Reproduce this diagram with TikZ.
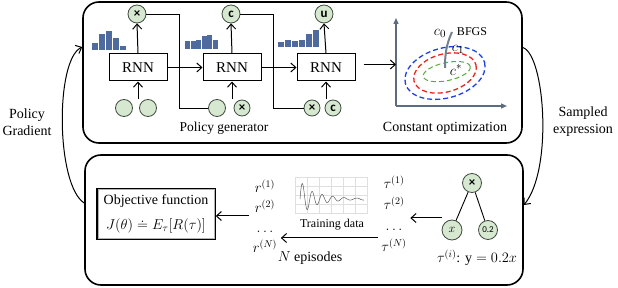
\documentclass[tikz,border=0pt]{standalone}
\usepackage{fontspec}
\setmainfont{Liberation Serif}
\setsansfont{Carlito}
\usetikzlibrary{arrows.meta, positioning, calc}
\definecolor{cbar}{HTML}{4E6A9E}
\definecolor{cnode}{HTML}{D6E8D0}
\definecolor{cnodeline}{HTML}{3F4B40}
\definecolor{caxis}{HTML}{5E6C80}
\definecolor{cpath}{HTML}{74808E}
\definecolor{cblue}{HTML}{1F3FE0}
\definecolor{cred}{HTML}{E8231F}
\definecolor{cgreen}{HTML}{5AAA3C}
\definecolor{cgrey}{HTML}{5A5A5A}
\tikzset{
  panel/.style={draw, line width=1.6pt, rounded corners=16pt, inner sep=0pt},
  rnn/.style={draw, line width=1pt, minimum width=58pt, minimum height=27pt, inner sep=0pt, font=\fontsize{15}{15}\selectfont},
  tok/.style={circle, draw=cnodeline, fill=cnode, line width=0.8pt, minimum size=#1, inner sep=0pt, font=\sffamily\bfseries\fontsize{13}{13}\selectfont},
  tok/.default=18pt,
  arrow/.style={-{Straight Barb[length=5pt, width=9pt]}, line width=1pt},
  wire/.style={line width=0.9pt},
  ring/.style={dash pattern=on 5pt off 3pt, line width=1.3pt},
  axis/.style={draw=caxis, line width=1.3pt, -{Triangle[length=6pt, width=5pt]}},
  gridline/.style={draw=gray!25, line width=0.3pt},
  caption/.style={align=center, font=\fontsize{14}{17}\selectfont},
  small/.style={font=\fontsize{12}{14}\selectfont},
  objbox/.style={draw, line width=1.4pt, minimum width=118pt, minimum height=51pt, align=center, inner sep=2pt},
}

\begin{document}
\begin{tikzpicture}[x=1pt, y=-1pt, line width=0.9pt, font=\fontsize{14}{17}\selectfont]
  \useasboundingbox (0,0) rectangle (618,288);
  % the two panels
  \node[panel, minimum width=439pt, minimum height=141pt] (top) at (302.5,72.5) {};
  \node[panel, minimum width=438pt, minimum height=130pt] (bot) at (304,220) {};

  % policy generator
  \node[rnn] (rnn1) at (138,67.5) {RNN};
  \node[rnn, right=35pt of rnn1] (rnn2) {RNN};
  \node[rnn, right=35pt of rnn2] (rnn3) {RNN};
  \node[tok] (out1) at (137,14) {×};
  \node[tok] (out2) at (231,14) {c};
  \node[tok] (out3) at (324,14) {u};
  \node[tok=17pt] (in1a) at (124,108) {};
  \node[tok=17pt] (in1b) at (148,108) {};
  \node[tok=17pt] (in2a) at (217,108) {};
  \node[tok=16pt] (in2b) at (242,108) {×};
  \node[tok=16pt] (in3a) at (312,108) {×};
  \node[tok=16pt] (in3b) at (333,108) {c};
  \foreach \r/\o in {rnn1/out1, rnn2/out2, rnn3/out3} {
    \draw[arrow] (\r.north) -- (\o.south);
    \draw[arrow] (\r.south |- in1a.north) -- (\r.south);
  }
  \draw[arrow] (rnn1) -- (rnn2);
  \draw[arrow] (rnn2) -- (rnn3);
  \draw[wire] (out1.east) -- ++(33,0) |- (in2a.west);
  \draw[wire] (out2.east) -- ++(33,0) |- (in3a.west);
  % output distributions
  \foreach \h [count=\i from 0] in {7,16,19,12,4}
    \fill[cbar] (92+7*\i,50) rectangle ++(6,-\h);
  \foreach \h [count=\i from 0] in {8,8,9,13,14,9}
    \fill[cbar] (185+5.6*\i,49) rectangle ++(5,-\h);
  \foreach \h [count=\i from 0] in {5,7,6,7,13,17}
    \fill[cbar] (278+7*\i,47) rectangle ++(5.5,-\h);
  \node[caption, font=\fontsize{13.5}{16}\selectfont] (gen) at (224,128) {Policy generator};

  % constant optimization
  \coordinate (origin) at (396,106);
  \coordinate (opt) at (445,73);
  \draw[axis] (origin) -- (396,18);
  \draw[axis] (origin) -- (507,106);
  \draw[ring, cblue, rotate around={15:(opt)}] (opt) ellipse [x radius=41, y radius=25];
  \draw[ring, cred, rotate around={15:(opt)}] (opt) ellipse [x radius=32, y radius=19];
  \draw[ring, cgreen, line width=1pt, rotate around={12:(opt)}] ([shift={(2,-1)}]opt) ellipse [x radius=24, y radius=9];
  \coordinate (c0) at (452,32);
  \coordinate (cs) at (445,68);
  \draw[cpath, line width=2pt] (c0) .. controls (446,45) and (445,55) .. (cs);
  \node[font=\fontsize{15}{15}\selectfont] at (440,33) {$c_0$};
  \node[small] at (472,32) {BFGS};
  \node[font=\fontsize{15}{15}\selectfont] at (458,49) {$c_1$};
  \node[font=\fontsize{15}{15}\selectfont] at (456,70) {$c^*$};
  \draw[arrow] ([xshift=8pt, yshift=3pt]rnn3.east) -- ([yshift=3pt]rnn3.east -| origin);
  \node[caption] (copt) at (445,128) {Constant optimization};

  % sampled expression
  \node[tok=19pt] (root) at (472,183) {×};
  \node[tok=20pt] (leafx) at (452,230) {$x$};
  \node[tok=19pt, font=\sffamily\fontsize{9}{9}\selectfont] (leafc) at (488,230) {0.2};
  \draw[wire] (root) -- (leafx);
  \draw[wire] (root) -- (leafc);
  \node at (477,258) {$\tau^{(i)}$: $\mathrm{y}=0.2x$};
  \node[align=center, font=\fontsize{14}{21}\selectfont] (tlist) at (394,214)
    {$\tau^{(1)}$\\$\tau^{(2)}$\\$\dots$\\$\tau^{(N)}$};
  \draw[arrow] ([yshift=-4pt]leafx.west |- tlist.east) -- ([yshift=-4pt]tlist.east);

  % training data
  \foreach \gx in {295,307,...,367} \draw[gridline] (\gx,177) -- (\gx,213);
  \foreach \gy in {177,186,...,213} \draw[gridline] (295,\gy) -- (368,\gy);
  \draw[cgrey, line width=0.5pt] plot[domain=0:64, samples=160]
    ({300+\x}, {199-20*exp(-\x/13)*sin(36*\x)+1.2*sin(30*\x)});
  \node[small] (tdata) at (332,225) {Training data};
  \node[align=center, font=\fontsize{14}{20}\selectfont] (rlist) at (265,216)
    {$r^{(1)}$\\$r^{(2)}$\\$\dots$\\$r^{(N)}$};
  \draw[arrow] ([yshift=-24pt]tlist.west) -- ([yshift=-22pt]rlist.east);
  \node (eps) at (310,258) {$N$ episodes};

  % objective
  \node[objbox] (obj) at (156,214)
    {Objective function\\[8pt]$J(\theta)\doteq E_\tau[R(\tau)]$};
  \draw[gray!60, line width=0.6pt] ([shift={(1.8,1.8)}]obj.north west) rectangle ([shift={(-1.8,-1.8)}]obj.south east);
  \draw[arrow] (rlist.west) -- (rlist.west -| obj.east);

  % loop between the panels
  \draw[arrow] ([yshift=25pt]top.east) .. controls (545,55) and (553,170) .. ([yshift=15pt]bot.east);
  \node[caption] (samp) at (583,122) {Sampled\\expression};
  \draw[arrow] ([yshift=17pt]bot.west) .. controls (56,185) and (55,60) .. ([yshift=25.5pt]top.west);
  \node[caption] (pg) at (27,122) {Policy\\Gradient};
\end{tikzpicture}
\end{document}
